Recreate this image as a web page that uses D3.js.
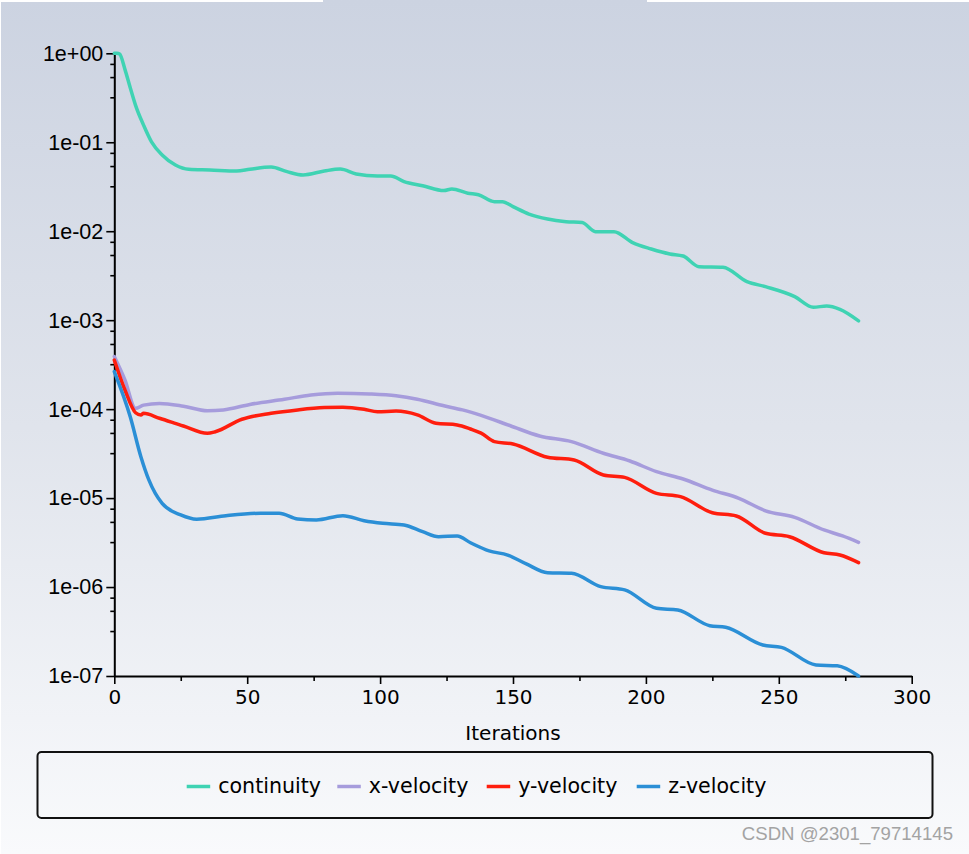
<!DOCTYPE html>
<html>
<head>
<meta charset="utf-8">
<script src="https://cdn.jsdelivr.net/npm/d3@7"></script>
<style>
  html, body { margin: 0; padding: 0; background: #ffffff; }
  svg { display: block; }
</style>
</head>
<body>
<svg id="chart" width="969" height="854"></svg>
<script>
// ---------------- DATA ----------------
const seriesNames = ["continuity", "x-velocity", "y-velocity", "z-velocity"];
const seriesColors = ["#3fd3b3", "#a69cdc", "#ff1e0e", "#2b8fd6"];

const continuityIter = [0, 1, 2, 4, 6, 8, 11, 14, 18, 23, 28, 36, 46, 51, 59, 65, 71, 79, 85, 91, 99, 104, 109, 116, 124, 127, 133, 137, 143, 146, 150, 156, 163, 170, 176, 181, 188, 195, 202, 209, 214, 220, 229, 238, 245, 256, 263, 268, 273, 280];
const continuityVal = [1.0, 1.0, 0.98, 0.66, 0.41, 0.26, 0.156, 0.101, 0.072, 0.0555, 0.0497, 0.0488, 0.0475, 0.0497, 0.0527, 0.0467, 0.0429, 0.0475, 0.050, 0.044, 0.0418, 0.0418, 0.0361, 0.0325, 0.0286, 0.0299, 0.0267, 0.0257, 0.0215, 0.0215, 0.0189, 0.0156, 0.0137, 0.0128, 0.0125, 0.00989, 0.00989, 0.00743, 0.00631, 0.00555, 0.00526, 0.00399, 0.00393, 0.00271, 0.00238, 0.00184, 0.00140, 0.00144, 0.00132, 0.00098];

const xVelIter = [0, 4, 8, 11, 17, 26, 35, 41, 51, 64, 74, 84, 96, 106, 114, 124, 131, 138, 149, 160, 172, 184, 194, 204, 214, 225, 235, 245, 256, 267, 274, 280];
const xVelVal = [3.9e-4, 2.13e-4, 1.02e-4, 1.11e-4, 1.16e-4, 1.08e-4, 9.6e-5, 9.8e-5, 1.13e-4, 1.29e-4, 1.44e-4, 1.51e-4, 1.48e-4, 1.41e-4, 1.29e-4, 1.09e-4, 9.8e-5, 8.5e-5, 6.5e-5, 4.99e-5, 4.31e-5, 3.19e-5, 2.61e-5, 1.98e-5, 1.64e-5, 1.23e-5, 9.95e-6, 7.2e-6, 6.08e-6, 4.38e-6, 3.75e-6, 3.18e-6];

const yVelIter = [0, 4, 8, 10, 11, 17, 26, 35, 38, 48, 59, 69, 79, 86, 94, 99, 106, 114, 121, 129, 134, 138, 143, 150, 163, 173, 184, 192, 204, 213, 225, 234, 245, 254, 267, 273, 280];
const yVelVal = [3.56e-4, 1.64e-4, 9.1e-5, 8.6e-5, 8.97e-5, 7.9e-5, 6.46e-5, 5.35e-5, 5.57e-5, 7.7e-5, 8.97e-5, 9.8e-5, 1.04e-4, 1.05e-4, 9.95e-5, 9.35e-5, 9.5e-5, 8.6e-5, 6.93e-5, 6.64e-5, 5.98e-5, 5.37e-5, 4.31e-5, 4.06e-5, 2.88e-5, 2.68e-5, 1.82e-5, 1.71e-5, 1.13e-5, 1.04e-5, 6.85e-6, 6.3e-6, 4.02e-6, 3.68e-6, 2.43e-6, 2.29e-6, 1.88e-6];

const zVelIter = [0, 6, 10, 13, 18, 25, 31, 42, 55, 62, 69, 76, 86, 94, 101, 109, 116, 122, 129, 134, 141, 148, 155, 163, 172, 183, 192, 204, 212, 224, 230, 244, 251, 264, 272, 280];
const zVelVal = [2.64e-4, 8.2e-5, 2.92e-5, 1.6e-5, 8.7e-6, 6.46e-6, 5.78e-6, 6.34e-6, 6.75e-6, 6.75e-6, 5.82e-6, 5.68e-6, 6.34e-6, 5.57e-6, 5.21e-6, 4.99e-6, 4.19e-6, 3.68e-6, 3.75e-6, 3.15e-6, 2.55e-6, 2.29e-6, 1.82e-6, 1.45e-6, 1.43e-6, 1.01e-6, 9.3e-7, 5.77e-7, 5.52e-7, 3.68e-7, 3.53e-7, 2.23e-7, 2.1e-7, 1.33e-7, 1.3e-7, 1.0e-7];

const xTickValues = [0, 50, 100, 150, 200, 250, 300];
const xMinorTicks = [25, 75, 125, 175, 225, 275];
const yTickValues = [1, 1e-1, 1e-2, 1e-3, 1e-4, 1e-5, 1e-6, 1e-7];
const yTickLabels = ["1e+00", "1e-01", "1e-02", "1e-03", "1e-04", "1e-05", "1e-06", "1e-07"];
const yMinorMultipliers = [0.76, 0.54, 0.32];
const xAxisTitle = "Iterations";
const watermark = "CSDN @2301_79714145";

// ---------------- DRAW ----------------
const svg = d3.select("#chart");
const W = 969, H = 854;

const defs = svg.append("defs");
const grad = defs.append("linearGradient").attr("id", "bg").attr("x1", 0).attr("y1", 0).attr("x2", 0).attr("y2", 1);
grad.append("stop").attr("offset", "0%").attr("stop-color", "#ccd3e1");
grad.append("stop").attr("offset", "50%").attr("stop-color", "#e0e4ec");
grad.append("stop").attr("offset", "100%").attr("stop-color", "#f9fafc");

svg.append("rect").attr("width", W).attr("height", H).attr("fill", "url(#bg)");
// thin white edges of the screenshot
svg.append("rect").attr("x", 0).attr("y", 0).attr("width", 323).attr("height", 2).attr("fill", "#fff");
svg.append("rect").attr("x", 647).attr("y", 0).attr("width", 322).attr("height", 2).attr("fill", "#fff");
svg.append("rect").attr("x", 0).attr("y", 0).attr("width", 1).attr("height", H).attr("fill", "#fff");

const x = d3.scaleLinear().domain([0, 300]).range([114.3, 911.7]);
const y = d3.scaleLog().domain([1e-7, 1]).range([676, 53.3]);

// minor y ticks
const yMinor = [];
yTickValues.slice(0, -1).forEach(v => yMinorMultipliers.forEach(m => yMinor.push(v * m)));

const axisColor = "#000";

// Y axis
const yAxis = d3.axisLeft(y)
  .tickValues(yTickValues)
  .tickSize(8)
  .tickSizeOuter(0)
  .tickPadding(3)
  .tickFormat((d, i) => yTickLabels[i]);
const gy = svg.append("g").attr("transform", `translate(${x(0)},0)`).call(yAxis);
gy.select(".domain").attr("stroke", axisColor).attr("stroke-width", 2);
gy.selectAll(".tick line").attr("stroke", axisColor).attr("stroke-width", 1.6);
gy.selectAll(".tick text")
  .attr("font-family", "'Liberation Sans', Arial, sans-serif")
  .attr("font-size", 21.5)
  .attr("fill", "#000");

const yMinorAxis = d3.axisLeft(y).tickValues(yMinor).tickSize(4).tickFormat("");
const gym = svg.append("g").attr("transform", `translate(${x(0)},0)`).call(yMinorAxis);
gym.select(".domain").remove();
gym.selectAll(".tick line").attr("stroke", axisColor).attr("stroke-width", 1.6);

// X axis
const xAxis = d3.axisBottom(x)
  .tickValues(xTickValues)
  .tickSize(8)
  .tickSizeOuter(0)
  .tickPadding(6)
  .tickFormat(d3.format("d"));
const gx = svg.append("g").attr("transform", `translate(0,${y(1e-7)})`).call(xAxis);
gx.select(".domain").attr("stroke", axisColor).attr("stroke-width", 2);
gx.selectAll(".tick line").attr("stroke", axisColor).attr("stroke-width", 1.6);
gx.selectAll(".tick text")
  .attr("font-family", "'DejaVu Sans', sans-serif")
  .attr("font-size", 20)
  .attr("fill", "#000");

const xMinorAxis = d3.axisBottom(x).tickValues(xMinorTicks).tickSize(5).tickFormat("");
const gxm = svg.append("g").attr("transform", `translate(0,${y(1e-7)})`).call(xMinorAxis);
gxm.select(".domain").remove();
gxm.selectAll(".tick line").attr("stroke", axisColor).attr("stroke-width", 1.6);

svg.append("text")
  .attr("x", (x(0) + x(300)) / 2)
  .attr("y", 740)
  .attr("text-anchor", "middle")
  .attr("font-family", "'DejaVu Sans', sans-serif")
  .attr("font-size", 20)
  .attr("fill", "#000")
  .text(xAxisTitle);

// Lines
const seriesData = [
  continuityIter.map((it, i) => [it, continuityVal[i]]),
  xVelIter.map((it, i) => [it, xVelVal[i]]),
  yVelIter.map((it, i) => [it, yVelVal[i]]),
  zVelIter.map((it, i) => [it, zVelVal[i]])
];
const line = d3.line().x(d => x(d[0])).y(d => y(d[1])).curve(d3.curveMonotoneX);

svg.append("g").selectAll("path")
  .data(seriesData)
  .join("path")
  .attr("d", line)
  .attr("fill", "none")
  .attr("stroke", (d, i) => seriesColors[i])
  .attr("stroke-width", 3.5)
  .attr("stroke-linejoin", "round")
  .attr("stroke-linecap", "round");

// Legend
svg.append("rect")
  .attr("x", 37.5).attr("y", 752)
  .attr("width", 895).attr("height", 66)
  .attr("rx", 4).attr("ry", 4)
  .attr("fill", "none")
  .attr("stroke", "#111")
  .attr("stroke-width", 2);

const legendX = [186.7, 337.3, 486.7, 636.7];
const lg = svg.append("g");
seriesNames.forEach((name, i) => {
  lg.append("line")
    .attr("x1", legendX[i]).attr("x2", legendX[i] + 23.5)
    .attr("y1", 786.5).attr("y2", 786.5)
    .attr("stroke", seriesColors[i]).attr("stroke-width", 3.5);
  lg.append("text")
    .attr("x", legendX[i] + 31.5).attr("y", 793)
    .attr("font-family", "'DejaVu Sans', sans-serif")
    .attr("font-size", 20.6)
    .attr("fill", "#000")
    .text(name);
});

// Watermark
svg.append("text")
  .attr("x", 953).attr("y", 840)
  .attr("text-anchor", "end")
  .attr("font-family", "'Liberation Sans', Arial, sans-serif")
  .attr("font-size", 18.6)
  .attr("fill", "#a3a3a3")
  .text(watermark);
</script>
</body>
</html>
